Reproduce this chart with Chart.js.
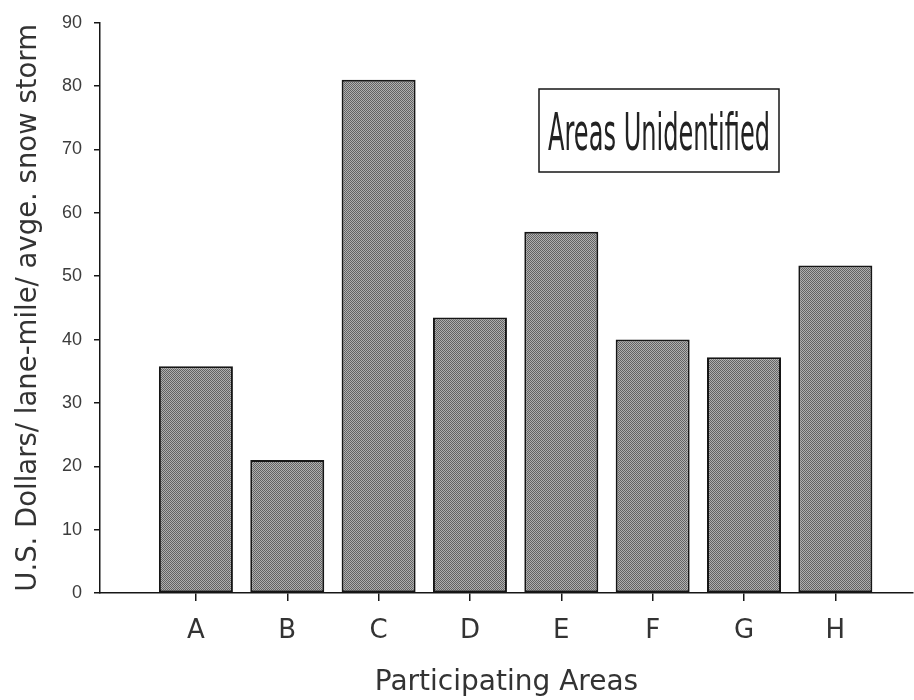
<!DOCTYPE html>
<html>
<head>
<meta charset="utf-8">
<script src="https://cdn.jsdelivr.net/npm/chart.js@4.4.0/dist/chart.umd.min.js"></script>
<style>
  html, body { margin: 0; padding: 0; background: #fff; }
  #wrap { width: 914px; height: 700px; }
</style>
</head>
<body>
<div id="wrap"><canvas id="chart"></canvas></div>
<script>
// values
const areas = ['A', 'B', 'C', 'D', 'E', 'F', 'G', 'H'];
const costs = [35.8, 21, 81, 43.5, 57, 40, 37.2, 51.7];
const yTicks = [0, 10, 20, 30, 40, 50, 60, 70, 80, 90];

const yTitle = 'U.S. Dollars/ lane-mile/ avge. snow storm';
const xTitle = 'Participating Areas';
const noteText = 'Areas Unidentified';

const ink = '#161616';
const textGrey = '#333333';

// dotted grey fill like the printed screen tone
function stipple() {
    const c = document.createElement('canvas');
    c.width = 2; c.height = 2;
    const g = c.getContext('2d');
    g.fillStyle = '#b0b0b0';
    g.fillRect(0, 0, 2, 2);
    g.fillStyle = '#636363';
    g.fillRect(0, 0, 1, 1);
    g.fillRect(1, 1, 1, 1);
    return g.createPattern(c, 'repeat');
}

// boxed note in the upper right, condensed lettering
const notePlugin = {
    id: 'note',
    afterDraw(chart) {
        const ctx = chart.ctx;
        const x = 539, y = 89, w = 240, h = 83;
        ctx.save();
        ctx.strokeStyle = ink;
        ctx.lineWidth = 1.5;
        ctx.strokeRect(x, y, w, h);
        ctx.font = '52px "DejaVu Sans"';
        ctx.fillStyle = '#222';
        ctx.textAlign = 'center';
        ctx.textBaseline = 'alphabetic';
        const tw = ctx.measureText(noteText).width;
        const sx = 222 / tw;
        ctx.translate(x + w / 2, 150);
        ctx.scale(sx, 1);
        ctx.fillText(noteText, 0, 0);
        ctx.restore();
    }
};

const ctx = document.getElementById('chart');

new Chart(ctx, {
    type: 'bar',
    data: {
        datasets: [{
            label: 'Cost',
            data: areas.map((a, i) => ({x: i + 1, y: costs[i]})),
            backgroundColor: stipple(),
            borderColor: ink,
            borderWidth: 2,
            borderSkipped: false,
            categoryPercentage: 1,
            barPercentage: 0.81
        }]
    },
    options: {
        maintainAspectRatio: false,
        responsive: true,
        animation: false,
        layout: { padding: { top: 16, right: 1, left: 0, bottom: 0 } },
        plugins: {
            legend: { display: false },
            tooltip: { enabled: false }
        },
        scales: {
            x: {
                type: 'linear',
                min: -0.05,
                max: 8.85,
                offset: false,
                afterBuildTicks(s) { s.ticks = areas.map((a, i) => ({value: i + 1})); },
                afterFit(s) { s.height = 107; },
                ticks: {
                    autoSkip: false,
                    maxRotation: 0,
                    callback: (v) => areas[v - 1] ?? '',
                    color: textGrey,
                    padding: 15,
                    font: { family: 'DejaVu Sans', size: 26 }
                },
                grid: { offset: false, drawOnChartArea: false, tickLength: 8, color: ink, lineWidth: 1.5 },
                border: { color: ink, width: 1.5 },
                title: {
                    display: true,
                    text: xTitle,
                    color: textGrey,
                    padding: { top: 5, bottom: 0 },
                    font: { family: 'DejaVu Sans', size: 28 }
                }
            },
            y: {
                min: 0,
                max: 90,
                afterBuildTicks(s) { s.ticks = yTicks.map(v => ({value: v})); },
                afterFit(s) { s.width = 100; },
                ticks: {
                    color: '#3c3c3c',
                    padding: 12,
                    font: { family: 'Liberation Sans', size: 18 }
                },
                grid: { drawOnChartArea: false, tickLength: 6, color: ink, lineWidth: 1.5 },
                border: { color: ink, width: 1.5 },
                title: {
                    display: true,
                    text: yTitle,
                    color: textGrey,
                    padding: { top: 12, bottom: 0 },
                    font: { family: 'DejaVu Sans', size: 27.5 }
                }
            }
        }
    },
    plugins: [notePlugin]
});
</script>
</body>
</html>
